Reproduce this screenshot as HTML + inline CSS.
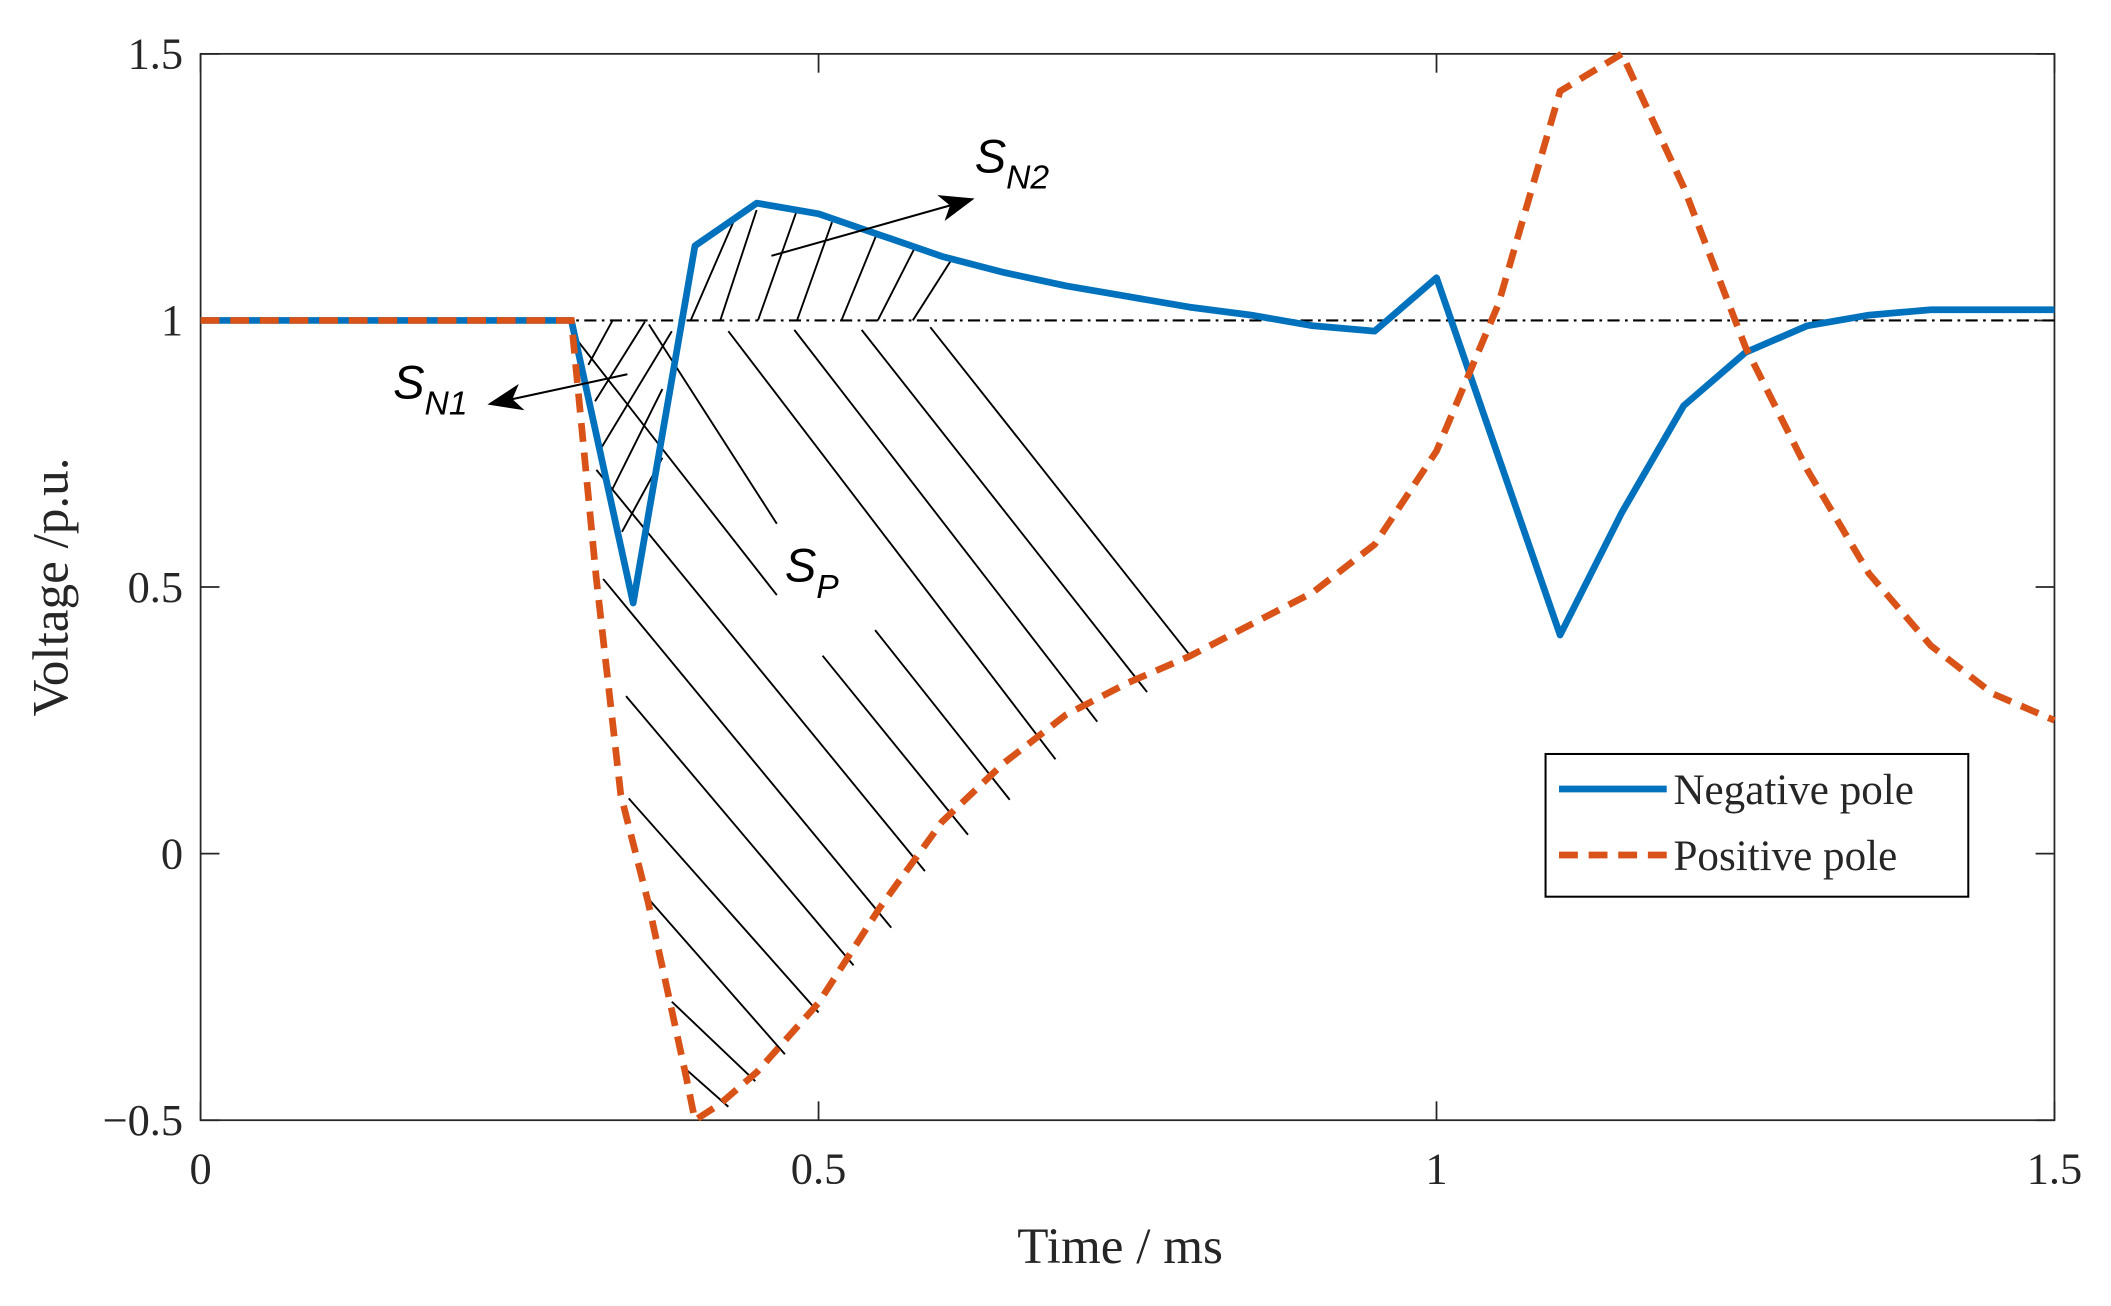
<!DOCTYPE html>
<html><head><meta charset="utf-8"><style>
html,body{margin:0;padding:0;background:#fff;}
svg{display:block;}
text{font-family:"Liberation Serif",serif;fill:#262626;}
.it{font-family:"Liberation Sans",sans-serif;font-style:italic;fill:#000;}
</style></head><body>
<svg id="chart" width="2111" height="1306" viewBox="0 0 1568 970" preserveAspectRatio="none" xmlns="http://www.w3.org/2000/svg">
<defs>
<marker id="ah2" markerWidth="26" markerHeight="20" refX="24" refY="10" orient="auto" markerUnits="userSpaceOnUse"><path d="M0,0 L26,10 L0,20 L7,10 Z" fill="#000"/></marker></defs>
<rect x="149" y="40" width="1377" height="792" fill="#fff" stroke="#262626" stroke-width="1.3"/>
<g id="ticks"></g>
<g id="hatch" stroke="#000" stroke-width="1.4">
<line x1="541" y1="246" x2="784" y2="564"/><line x1="590" y1="245" x2="815" y2="536"/>
<line x1="640" y1="245" x2="852" y2="514"/><line x1="691" y1="243" x2="884" y2="487"/>
<line x1="482" y1="241" x2="577" y2="389"/><line x1="650" y1="468" x2="750" y2="594"/>
<line x1="429" y1="253" x2="577" y2="442"/><line x1="611" y1="487" x2="719" y2="620"/>
<line x1="443" y1="349" x2="687" y2="647"/><line x1="448" y1="430" x2="662" y2="689"/>
<line x1="465" y1="517" x2="634" y2="717"/><line x1="467" y1="593" x2="608" y2="752"/>
<line x1="482" y1="668" x2="583" y2="783"/><line x1="499" y1="744" x2="561" y2="803"/>
<line x1="507" y1="792" x2="541" y2="822"/>
<line x1="437" y1="271" x2="455" y2="238"/><line x1="442" y1="298" x2="479" y2="239"/>
<line x1="447" y1="332" x2="499" y2="246"/><line x1="455" y1="363" x2="492" y2="289"/>
<line x1="462" y1="395" x2="492" y2="340"/>
<line x1="513" y1="238" x2="546" y2="162"/><line x1="535" y1="238" x2="562" y2="156"/>
<line x1="563" y1="238" x2="592" y2="156"/><line x1="592" y1="238" x2="618" y2="165"/>
<line x1="625" y1="238" x2="652" y2="172"/><line x1="652" y1="238" x2="680" y2="183"/>
<line x1="678" y1="238" x2="706" y2="194"/>
</g>
<line x1="149" y1="238" x2="1526" y2="238" stroke="#000" stroke-width="1.6" stroke-dasharray="9,4,2,4"/>
<g id="series"></g>
<line x1="466" y1="278" x2="364" y2="300" stroke="#000" stroke-width="1.5" marker-end="url(#ah2)"/>
<line x1="573" y1="190" x2="722" y2="148" stroke="#000" stroke-width="1.5" marker-end="url(#ah2)"/>
<text class="it" x="292" y="296" font-size="35">S<tspan font-size="25" dy="12">N1</tspan></text>
<text class="it" x="724" y="128" font-size="35">S<tspan font-size="25" dy="12">N2</tspan></text>
<text class="it" x="583" y="432" font-size="35">S<tspan font-size="25" dy="12">P</tspan></text>
<g>
<rect x="1148" y="560" width="314" height="106" fill="#fff" stroke="#000" stroke-width="1.5"/>
<line x1="1158" y1="586" x2="1238" y2="586" stroke="#0072BD" stroke-width="5"/>
<text x="1243" y="597" font-size="32" fill="#000">Negative pole</text>
<line x1="1158" y1="635" x2="1238" y2="635" stroke="#D95319" stroke-width="5" stroke-dasharray="14,8"/>
<text x="1243" y="646" font-size="32" fill="#000">Positive pole</text>
</g>
<text x="832" y="938" font-size="38" text-anchor="middle">Time / ms</text>
<text x="0" y="0" font-size="38" text-anchor="middle" transform="translate(50,436) rotate(-90)">Voltage /p.u.</text>
</svg>
<script>
const timesNeg=[0,0.3,0.35,0.4,0.45,0.5,0.55,0.6,0.65,0.7,0.75,0.8,0.85,0.9,0.95,1.0,1.1,1.15,1.2,1.25,1.3,1.35,1.4,1.45,1.5];
const negPole=[1,1,0.47,1.14,1.22,1.2,1.16,1.12,1.09,1.065,1.045,1.025,1.01,0.99,0.98,1.08,0.41,0.64,0.84,0.94,0.99,1.01,1.02,1.02,1.02];
const timesPos=[0,0.3,0.32,0.34,0.362,0.379,0.393,0.4,0.42,0.45,0.5,0.55,0.6,0.65,0.7,0.75,0.8,0.85,0.9,0.95,1.0,1.05,1.1,1.15,1.2,1.25,1.3,1.35,1.4,1.45,1.5];
const posPole=[1,1,0.52,0.11,-0.09,-0.27,-0.42,-0.5,-0.47,-0.41,-0.28,-0.1,0.06,0.17,0.26,0.32,0.37,0.43,0.49,0.58,0.755,1.03,1.43,1.5,1.25,0.95,0.72,0.525,0.39,0.3,0.25];
const xTicks=[0,0.5,1,1.5];
const xTickLabels=["0","0.5","1","1.5"];
const yTicks=[-0.5,0,0.5,1,1.5];
const yTickLabels=["\u22120.5","0","0.5","1","1.5"];
const NS="http://www.w3.org/2000/svg";
const X=t=>149+(t-0)/1.5*1377;
const Y=v=>832-(v+0.5)/2*792;
const tg=document.getElementById('ticks');
function mk(tag,attrs,parent){const e=document.createElementNS(NS,tag);for(const k in attrs)e.setAttribute(k,attrs[k]);parent.appendChild(e);return e;}
xTicks.forEach((t,i)=>{
  const a=mk('line',{x1:X(t),y1:832,x2:X(t),y2:818,stroke:'#262626','stroke-width':1.3},tg);
  
  
  const b=mk('line',{x1:X(t),y1:40,x2:X(t),y2:54,stroke:'#262626','stroke-width':1.3},tg);
  
  
  const l=mk('text',{x:X(t),y:879,'font-size':33,'text-anchor':'middle'},tg);
  l.textContent=xTickLabels[i];
  
  
});
yTicks.forEach((v,i)=>{
  const a=mk('line',{x1:149,y1:Y(v),x2:163,y2:Y(v),stroke:'#262626','stroke-width':1.3},tg);
  
  
  const b=mk('line',{x1:1526,y1:Y(v),x2:1512,y2:Y(v),stroke:'#262626','stroke-width':1.3},tg);
  
  
  const l=mk('text',{x:136,y:Y(v)+11,'font-size':33,'text-anchor':'end'},tg);
  l.textContent=yTickLabels[i];
  
  
});
const sg=document.getElementById('series');
const pn=mk('polyline',{points:timesNeg.map((t,i)=>X(t)+','+Y(negPole[i])).join(' '),fill:'none',stroke:'#0072BD','stroke-width':5,'stroke-linejoin':'round'},sg);


const pp=mk('polyline',{points:timesPos.map((t,i)=>X(t)+','+Y(posPole[i])).join(' '),fill:'none',stroke:'#D95319','stroke-width':5,'stroke-dasharray':'14,8'},sg);


</script>
</body></html>
